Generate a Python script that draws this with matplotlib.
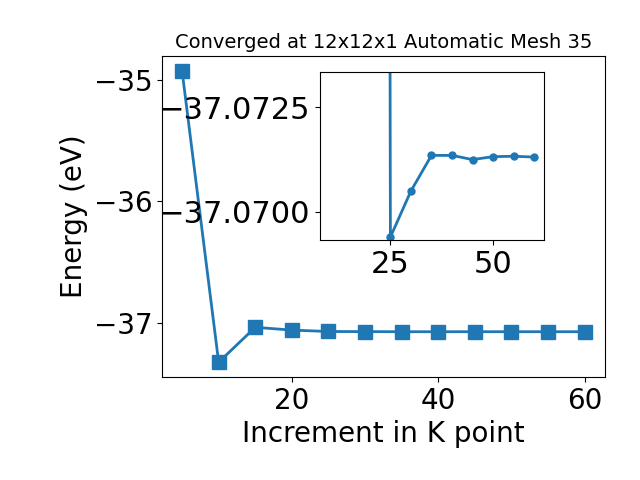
import matplotlib
matplotlib.use("Agg")
import matplotlib.pyplot as plt
from matplotlib.ticker import MultipleLocator

# k-point convergence data
kpoints = [5, 10, 15, 20, 25, 30, 35, 40, 45, 50, 55, 60]
energy = [-34.926, -37.322, -37.035, -37.058, -37.0694, -37.0705,
          -37.0713, -37.0713, -37.0712, -37.0713, -37.0713, -37.0713]

# zoomed inset data
inset_k = [20, 25, 30, 35, 40, 45, 50, 55, 60]
inset_energy = [-37.322, -37.0694, -37.0705, -37.07135, -37.07135,
                -37.07125, -37.07132, -37.07133, -37.07131]

fig = plt.figure(figsize=(6.4, 4.8), dpi=100)
ax = fig.add_axes([0.253, 0.215, 0.692, 0.668])
ax.plot(kpoints, energy, marker="s", markersize=10, linewidth=2)
ax.set_title("Converged at 12x12x1 Automatic Mesh 35", fontsize=14)
ax.set_xlabel("Increment in K point", fontsize=20)
ax.set_ylabel("Energy (eV)", fontsize=20)
ax.tick_params(labelsize=20)

ax2 = fig.add_axes([0.5, 0.5, 0.35, 0.349])
ax2.plot(inset_k, inset_energy, marker="o", markersize=5, linewidth=2)
ax2.set_xlim(7.86, 62.4)
ax2.set_ylim(-37.06933, -37.07333)
ax2.yaxis.set_major_locator(MultipleLocator(0.0025))
ax2.ticklabel_format(useOffset=False)
ax2.tick_params(labelsize=22)

plt.savefig("out.png")
